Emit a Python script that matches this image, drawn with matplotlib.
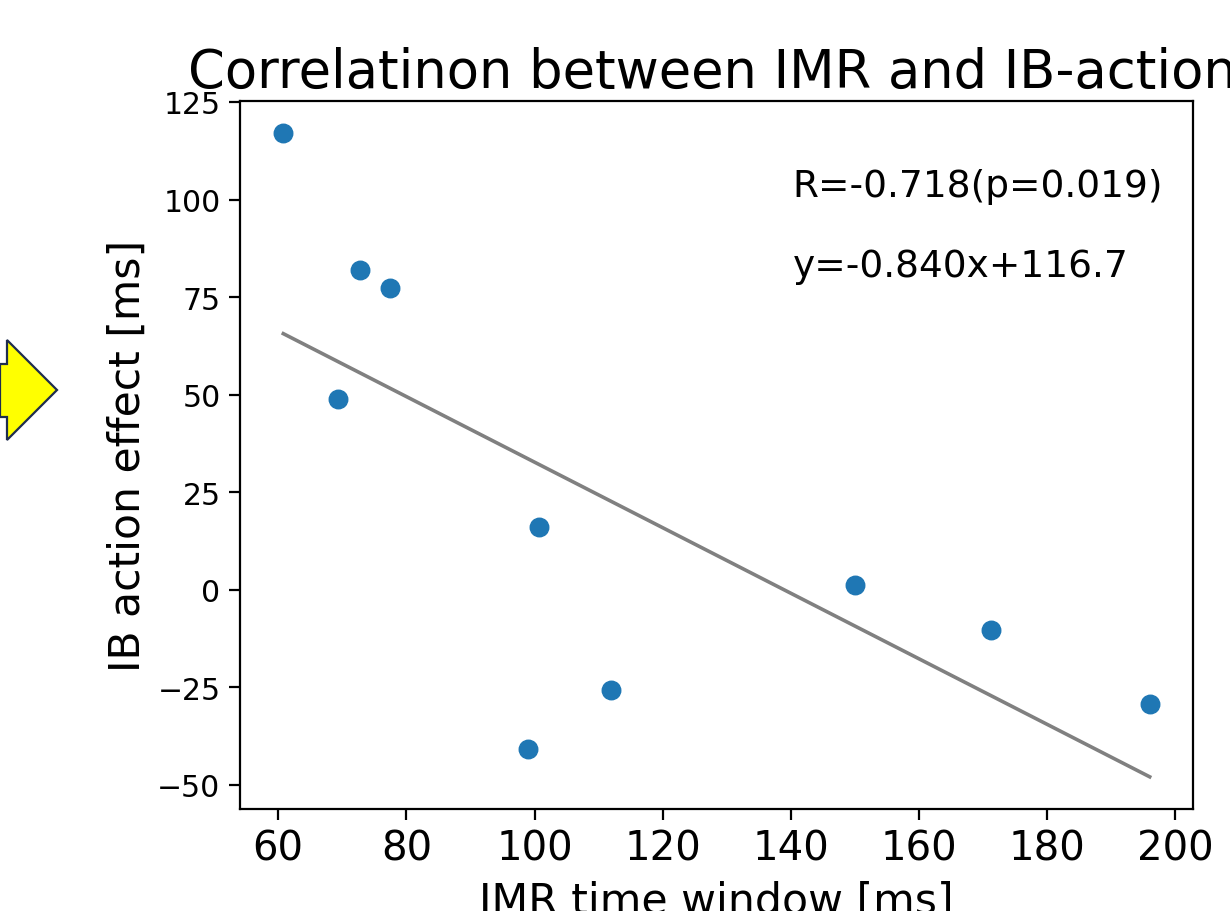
import matplotlib
matplotlib.use("Agg")
import matplotlib.pyplot as plt
from matplotlib.patches import Polygon
import numpy as np

# Data
imr_window = [60.8, 72.8, 77.4, 69.4, 100.7, 150.0, 171.3, 196.0, 111.9, 99.0]
ib_effect = [117.0, 82.0, 77.4, 48.8, 16.1, 1.2, -10.3, -29.3, -25.7, -40.7]
slope = -0.840
intercept = 116.7
r_text = "R=-0.718(p=0.019)"
eq_text = "y=-0.840x+116.7"
title = "Correlatinon between IMR and IB-action effect"
xlabel = "IMR time window [ms]"
ylabel = "IB action effect [ms]"

W, H = 1230, 912
fig = plt.figure(figsize=(W / 100, H / 100), dpi=100)
ax = fig.add_axes([240 / W, 1 - 810 / H, (1193 - 240) / W, (810 - 102) / H])

ax.scatter(imr_window, ib_effect, s=178, color="#1f77b4", zorder=3)
xs = np.array([min(imr_window), max(imr_window)])
ax.plot(xs, slope * xs + intercept, color="gray", lw=2.6)

ax.text(0.58, 0.88, r_text, transform=ax.transAxes, fontsize=27, va="center")
ax.text(0.58, 0.767, eq_text, transform=ax.transAxes, fontsize=27, va="center")

fig.text(188 / W, 1 - 88 / H, title, fontsize=38, ha="left", va="baseline")
ax.set_xlabel(xlabel, fontsize=30.7, labelpad=8)
ax.set_ylabel(ylabel, fontsize=30.6, labelpad=6)
ax.tick_params(axis="x", labelsize=29, length=8, width=1.6, pad=6)
ax.tick_params(axis="y", labelsize=21.5, length=8, width=1.6, pad=6)
for s in ax.spines.values():
    s.set_linewidth(1.6)
ax.set_yticks([-50, -25, 0, 25, 50, 75, 100, 125])
ax.set_xticks([60, 80, 100, 120, 140, 160, 180, 200])
ax.margins(x=0.05, y=0.05)

# Yellow arrow decoration at left edge
verts = [(0, 365), (7, 365), (7, 341), (57, 391), (7, 441), (7, 418), (0, 418)]
arrow = Polygon([(x, H - y) for x, y in verts], closed=True,
                facecolor="#ffff00", edgecolor="#1f2d4f", lw=1.6, transform=None)
fig.patches.append(arrow)

fig.savefig("out.png", dpi=100)
